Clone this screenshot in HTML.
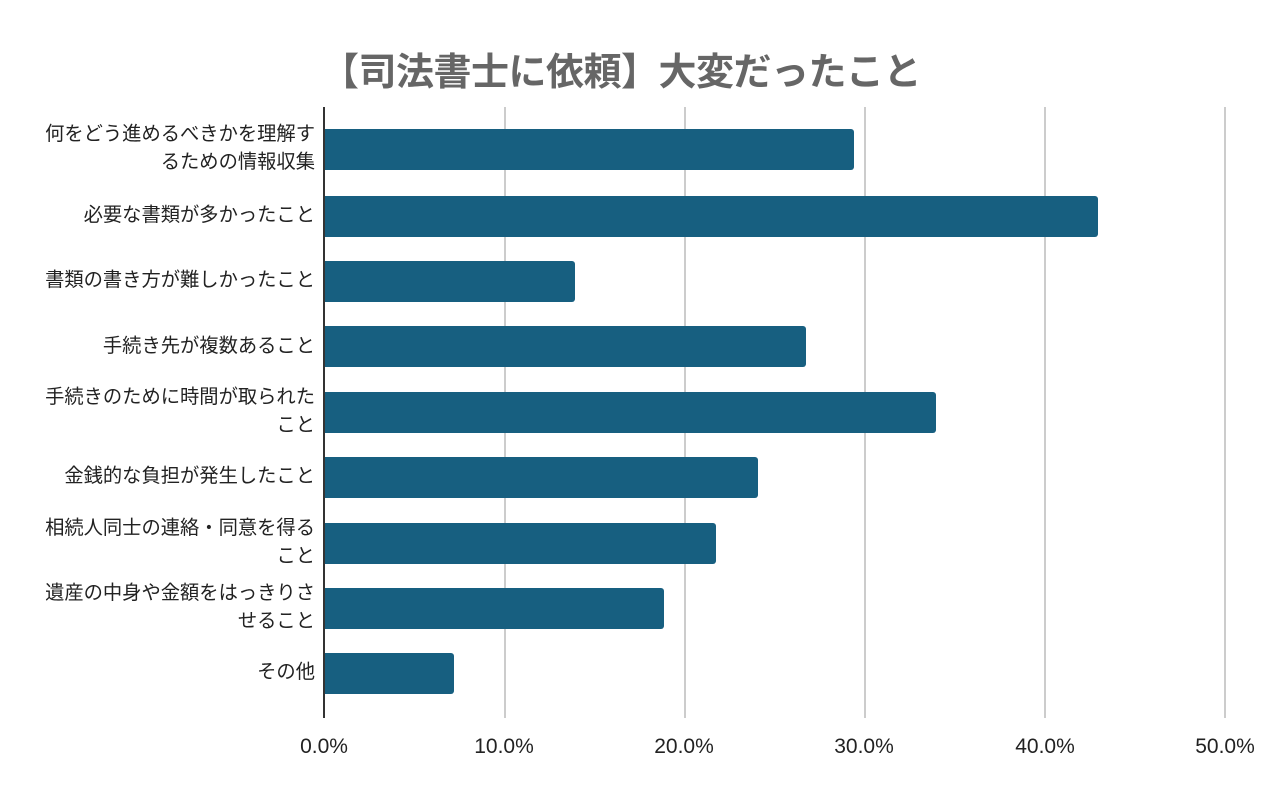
<!DOCTYPE html>
<html><head><meta charset="utf-8"><style>
body{margin:0;width:1282px;height:794px;background:#fff;position:relative;overflow:hidden;font-family:"Liberation Sans","Noto Sans CJK JP",sans-serif}
.t{position:absolute;left:-20px;width:1282px;top:41px;text-align:center;font-size:38px;font-weight:bold;color:#666;letter-spacing:-0.5px}
.g{position:absolute;top:107px;height:611px;width:2px;background:#ccc}
.ax{position:absolute;left:323px;top:107px;height:611px;width:2px;background:#333}
.b{position:absolute;left:325px;height:41px;background:#175f80;border-radius:0 3px 3px 0}
.l{position:absolute;right:967px;width:300px;text-align:right;font-size:19.3px;line-height:28px;color:#222}
.x{position:absolute;top:735px;font-size:21px;color:#222;width:100px;text-align:center}
</style></head><body>
<div class="t">【司法書士に依頼】大変だったこと</div>
<div class="g" style="left:504px"></div><div class="g" style="left:684px"></div><div class="g" style="left:864px"></div><div class="g" style="left:1044px"></div><div class="g" style="left:1224px"></div>
<div class="b" style="top:129px;width:529px"></div>
<div class="b" style="top:196px;width:773px"></div>
<div class="b" style="top:261px;width:250px"></div>
<div class="b" style="top:326px;width:481px"></div>
<div class="b" style="top:392px;width:611px"></div>
<div class="b" style="top:457px;width:433px"></div>
<div class="b" style="top:523px;width:391px"></div>
<div class="b" style="top:588px;width:339px"></div>
<div class="b" style="top:653px;width:129px"></div>
<div class="ax"></div>
<div class="l" style="top:121px">何をどう進めるべきかを理解す<br>るための情報収集</div>
<div class="l" style="top:202px">必要な書類が多かったこと</div>
<div class="l" style="top:267px">書類の書き方が難しかったこと</div>
<div class="l" style="top:333px">手続き先が複数あること</div>
<div class="l" style="top:384px">手続きのために時間が取られた<br>こと</div>
<div class="l" style="top:463px">金銭的な負担が発生したこと</div>
<div class="l" style="top:515px">相続人同士の連絡・同意を得る<br>こと</div>
<div class="l" style="top:580px">遺産の中身や金額をはっきりさ<br>せること</div>
<div class="l" style="top:659px">その他</div>
<div class="x" style="left:274px">0.0%</div>
<div class="x" style="left:454px">10.0%</div>
<div class="x" style="left:634px">20.0%</div>
<div class="x" style="left:814px">30.0%</div>
<div class="x" style="left:995px">40.0%</div>
<div class="x" style="left:1175px">50.0%</div>
</body></html>
